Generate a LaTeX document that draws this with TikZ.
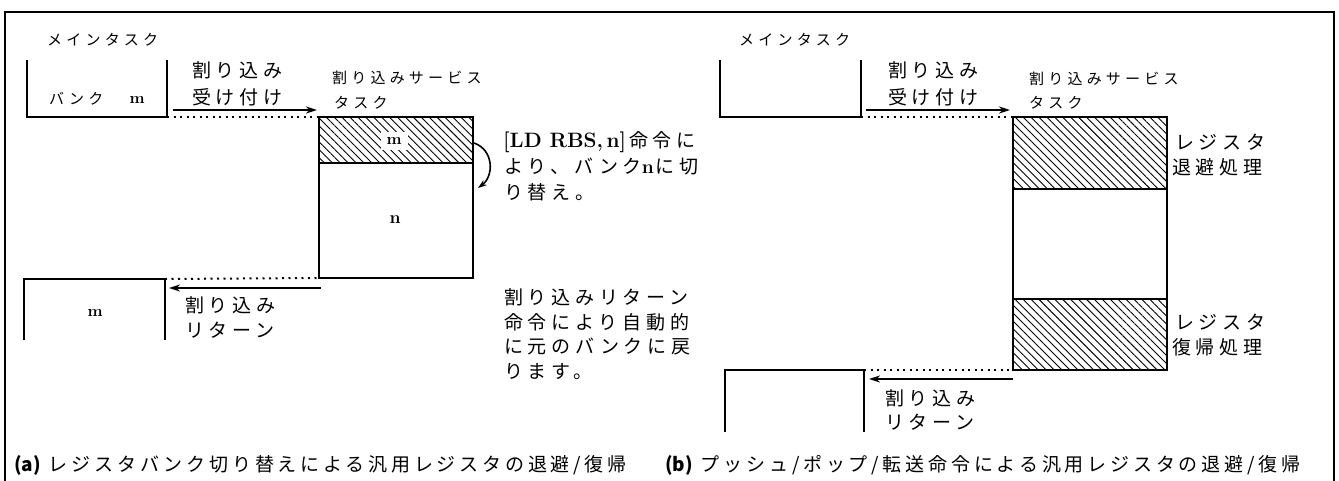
\documentclass[tikz,border=0pt]{standalone}
\usepackage{graphicx}
\usepackage{fontspec}
\newfontfamily\jpl{Noto Sans CJK JP}[LetterSpace=25]
\newfontfamily\jps{Noto Sans CJK JP}[LetterSpace=28]
\newfontfamily\jpc{Noto Sans CJK JP}[LetterSpace=20]
\newfontfamily\jpn{Noto Sans CJK JP}
\usetikzlibrary{patterns.meta,arrows.meta}
\newcommand{\lmw}[2]{\resizebox{#1}{!}{\rmfamily\bfseries #2}}
\tikzset{
  big/.style={anchor=west,inner sep=0pt,font=\jpl\fontsize{19}{22}\selectfont},
  small/.style={anchor=west,inner sep=0pt,font=\jps\fontsize{15}{17}\selectfont},
  captext/.style={anchor=west,inner sep=0pt,font=\jpc\fontsize{19}{22}\selectfont},
  reg/.style={inner sep=1pt},
  thick line/.style={line width=2pt},
  dots/.style={line width=2pt,dash pattern=on 2pt off 4.5pt},
  arr/.style={line width=2pt,-{Stealth[length=11pt,width=7pt]}},
  hatch/.style={pattern={Lines[angle=-45,distance=5.6pt,line width=0.9pt]}},
}
\begin{document}
\begin{tikzpicture}[x=1pt,y=-1pt]
\useasboundingbox (0,0) rectangle (1339,480);
\draw[line width=2pt] (5,12) rectangle (1334,500);

% ---------- panel (a) ----------
\node[small] (amt) at (47,40) {メインタスク};
\coordinate (a1) at (27,60); \coordinate (a2) at (27,117);
\coordinate (a3) at (167,117); \coordinate (a4) at (167,60);
\draw[thick line] (a1) -- (a2) -- (a3) -- (a4);
\node[small] (abank) at (49,99) {バンク};
\node[reg] (am1) at (137,100) {\lmw{15pt}{m}};
\node[big] (aacc1) at (192,70) {割り込み};
\node[big] (aacc2) at (192,97) {受け付け};
\node[small] (asv1) at (332,78) {割り込みサービス};
\node[small] (asv2) at (334,103) {タスク};
% service box
\coordinate (abx1) at (319,117); \coordinate (abx2) at (473,163);
\coordinate (abx3) at (473,278);
\fill[hatch] (abx1) rectangle (abx2);
\draw[thick line] (abx1) rectangle (abx3);
\draw[thick line] (319,163) -- (473,163);
\node[reg,fill=white,inner xsep=6pt,inner ysep=5pt] (am2) at (394,141) {\lmw{15pt}{m}};
\node[reg] (an) at (395,220) {\lmw{11pt}{n}};
% arrows
\coordinate (aarrS) at (173,110); \coordinate (aarrE) at (317,110);
\draw[arr] (aarrS) -- (aarrE);
\draw[dots] (a3) -- (abx1);
\coordinate (acS) at (474,143); \coordinate (acE) at (478,188);
\draw[line width=1.6pt,-{Stealth[length=9pt,width=6pt]}] (acS) .. controls (494,150) and (494,176) .. (acE);
\node[big] (at1) at (503,142) {\lmw{123pt}{[LD RBS,\,n]}\kern3pt 命令に};
\node[big] (at2) at (504,167) {より、バンク\lmw{12pt}{n}\kern2pt に切};
\node[big] (at3) at (504,192) {り替え。};
% return
\coordinate (ar1) at (24,340); \coordinate (ar2) at (24,279);
\coordinate (ar3) at (165,279); \coordinate (ar4) at (165,340);
\draw[thick line] (ar1) -- (ar2) -- (ar3) -- (ar4);
\coordinate (abxbl) at (319,278);
\draw[dots] (ar3) -- (abxbl);
\coordinate (aretS) at (321,288); \coordinate (aretE) at (169,288);
\draw[arr] (aretS) -- (aretE);
\node[reg] (am3) at (95,313) {\lmw{15pt}{m}};
\node[big] (aret1) at (185,305) {割り込み};
\node[big] (aret2) at (185,330) {リターン};
\node[big] (ad1) at (504,297) {割り込みリターン};
\node[big] (ad2) at (504,322) {命令により自動的};
\node[big] (ad3) at (504,347) {に元のバンクに戻};
\node[big] (ad4) at (504,372) {ります。};
\node[captext] (acap) at (14,465) {{\jpn\bfseries (a)}\hspace{8pt}レジスタバンク切り替えによる汎用レジスタの退避/復帰};

% ---------- panel (b) ----------
\node[small] (bmt) at (739,40) {メインタスク};
\coordinate (b1) at (720,60); \coordinate (b2) at (720,117);
\coordinate (b3) at (861,117); \coordinate (b4) at (861,60);
\draw[thick line] (b1) -- (b2) -- (b3) -- (b4);
\node[big] (bacc1) at (888,70) {割り込み};
\node[big] (bacc2) at (888,97) {受け付け};
\node[small] (bsv1) at (1029,79) {割り込みサービス};
\node[small] (bsv2) at (1029,103) {タスク};
\coordinate (bbx1) at (1013,117); \coordinate (bbx2) at (1167,189);
\coordinate (bbx3) at (1013,299); \coordinate (bbx4) at (1167,370);
\coordinate (bbxbl) at (1013,370);
\fill[hatch] (bbx1) rectangle (bbx2);
\fill[hatch] (bbx3) rectangle (bbx4);
\draw[thick line] (bbx1) rectangle (bbx4);
\draw[thick line] (1013,189) -- (1167,189);
\draw[thick line] (1013,299) -- (1167,299);
\coordinate (barrS) at (866,110); \coordinate (barrE) at (1010,110);
\draw[arr] (barrS) -- (barrE);
\draw[dots] (b3) -- (bbx1);
\node[big] (bs1) at (1175,142) {レジスタ};
\node[big] (bs2) at (1172,167) {退避処理};
\node[big] (br1) at (1175,322) {レジスタ};
\node[big] (br2) at (1172,347) {復帰処理};
\coordinate (bq1) at (725,432); \coordinate (bq2) at (725,370);
\coordinate (bq3) at (864,370); \coordinate (bq4) at (864,432);
\draw[thick line] (bq1) -- (bq2) -- (bq3) -- (bq4);
\draw[dots] (bq3) -- (bbxbl);
\coordinate (bretS) at (1013,379); \coordinate (bretE) at (869,379);
\draw[arr] (bretS) -- (bretE);
\node[big] (bret1) at (885,398) {割り込み};
\node[big] (bret2) at (885,422) {リターン};
\node[captext] (bcap) at (665,465) {{\jpn\bfseries (b)}\hspace{8pt}プッシュ/ポップ/転送命令による汎用レジスタの退避/復帰};
\end{tikzpicture}
\end{document}
